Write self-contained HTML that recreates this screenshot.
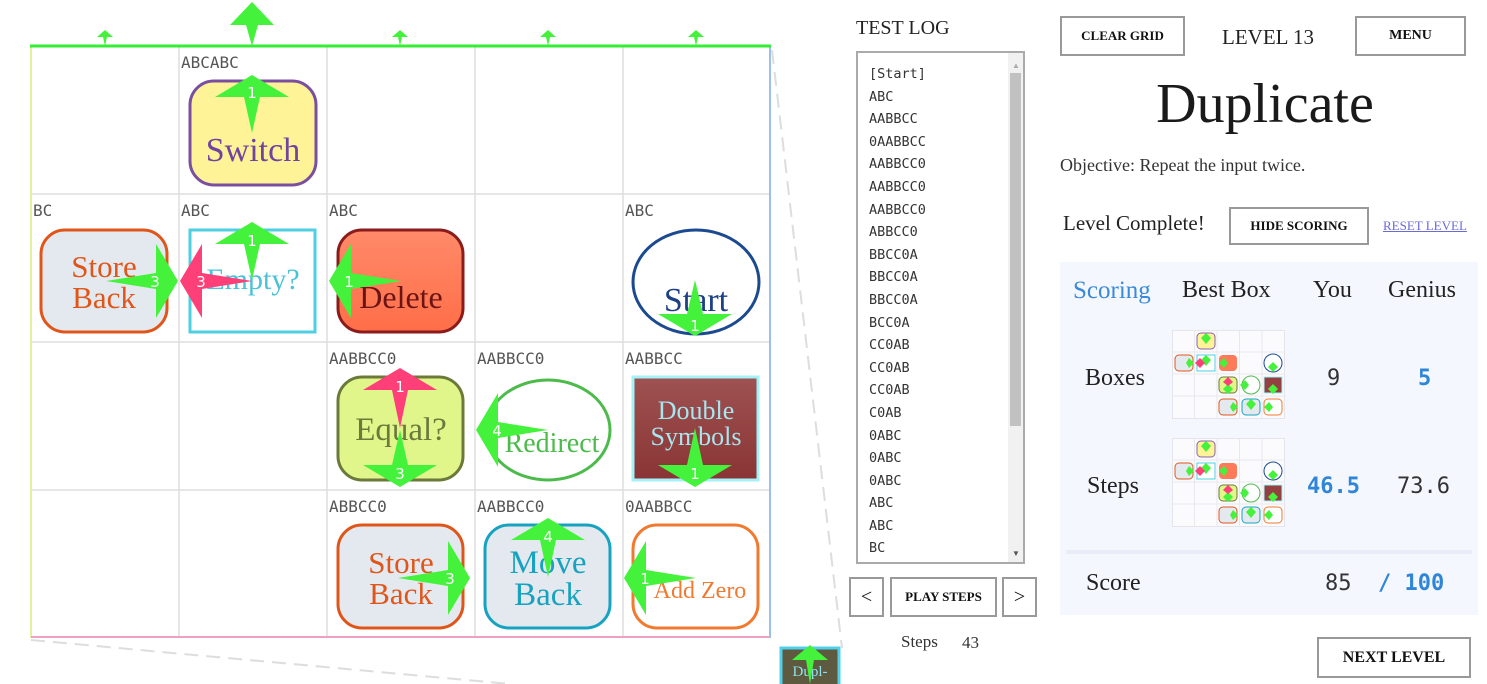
<!DOCTYPE html>
<html><head><meta charset="utf-8">
<style>
body{margin:0;width:1487px;height:684px;overflow:hidden;background:#fff;position:relative;font-family:"Liberation Serif",serif;color:#222}
.a{position:absolute}
.btn{position:absolute;border:2px solid #999;box-sizing:border-box;background:#fff;font-weight:bold;font-size:14px;display:flex;align-items:center;justify-content:center;color:#111}
.mono{font-family:"DejaVu Sans Mono","Liberation Mono",monospace}
.log div{height:22.6px;font-size:13.5px;color:#333}
</style></head><body>
<svg class="a" style="left:0;top:0" width="850" height="684">
<defs>
<linearGradient id="dl" x1="0" y1="0" x2="0" y2="1"><stop offset="0" stop-color="#ff8a6a"/><stop offset="1" stop-color="#ff6e48"/></linearGradient>
<linearGradient id="ds" x1="0" y1="0" x2="0" y2="1"><stop offset="0" stop-color="#9e5252"/><stop offset="1" stop-color="#8a3434"/></linearGradient>
</defs>
<g stroke="#ddd" stroke-width="1.5">
<line x1="179" y1="46" x2="179" y2="638"/><line x1="327" y1="46" x2="327" y2="638"/><line x1="475" y1="46" x2="475" y2="638"/><line x1="623" y1="46" x2="623" y2="638"/>
<line x1="31" y1="194" x2="770" y2="194"/><line x1="31" y1="342" x2="770" y2="342"/><line x1="31" y1="490" x2="770" y2="490"/>
</g>
<line x1="31" y1="46" x2="31" y2="638" stroke="#e6ef9a" stroke-width="2"/>
<line x1="770" y1="46" x2="770" y2="638" stroke="#9cc0ee" stroke-width="2"/>
<line x1="31" y1="637" x2="770" y2="637" stroke="#f0a0c0" stroke-width="2"/>
<line x1="30" y1="46" x2="771" y2="46" stroke="#33ee33" stroke-width="3"/>
<line x1="772" y1="50" x2="842" y2="648" stroke="#ddd" stroke-width="2" stroke-dasharray="14,8"/>
<line x1="31" y1="640" x2="510" y2="684" stroke="#ddd" stroke-width="2" stroke-dasharray="14,8"/>
<g class="mono" font-family="DejaVu Sans Mono,monospace" font-size="16" fill="#555">
<text x="181" y="68">ABCABC</text><text x="33" y="216">BC</text><text x="181" y="216">ABC</text><text x="329" y="216">ABC</text><text x="625" y="216">ABC</text>
<text x="329" y="364">AABBCC0</text><text x="477" y="364">AABBCC0</text><text x="625" y="364">AABBCC</text>
<text x="329" y="512">ABBCC0</text><text x="477" y="512">AABBCC0</text><text x="625" y="512">0AABBCC</text>
</g>
<g font-family="Liberation Serif,serif" text-anchor="middle">
<rect x="190" y="81" width="126" height="104" rx="24" fill="#fef396" stroke="#7a4fa0" stroke-width="3"/>
<text x="253" y="161" font-size="34" fill="#6e44a0">Switch</text>
<rect x="41" y="230" width="126" height="102" rx="24" fill="#e3e9ef" stroke="#e0561a" stroke-width="3"/>
<text x="104" y="277" font-size="31" fill="#e0561a">Store</text><text x="104" y="308" font-size="31" fill="#e0561a">Back</text>
<rect x="190" y="230" width="125" height="102" fill="#fff" stroke="#4fd0e2" stroke-width="3"/>
<text x="253" y="289" font-size="30" fill="#4cc2d8">Empty?</text>
<rect x="338" y="230" width="125" height="102" rx="24" fill="url(#dl)" stroke="#8b1c1c" stroke-width="3"/>
<text x="401" y="308" font-size="32" fill="#6a1414">Delete</text>
<ellipse cx="696" cy="282" rx="63" ry="52" fill="#fff" stroke="#1c4a90" stroke-width="3"/>
<text x="696" y="311" font-size="34" fill="#1c3f85">Start</text>
<rect x="338" y="377" width="125" height="103" rx="24" fill="#e0f68a" stroke="#6b7a3a" stroke-width="3"/>
<text x="401" y="440" font-size="33" fill="#6b7a3a">Equal?</text>
<ellipse cx="548" cy="430" rx="62" ry="50" fill="#fff" stroke="#4cbb4c" stroke-width="3"/>
<text x="552" y="452" font-size="28" fill="#4cbb4c">Redirect</text>
<rect x="633" y="377" width="125" height="103" fill="url(#ds)" stroke="#a4f2f8" stroke-width="3"/>
<text x="696" y="419" font-size="26" fill="#a6e6ee">Double</text><text x="696" y="445" font-size="26" fill="#a6e6ee">Symbols</text>
<rect x="338" y="525" width="125" height="103" rx="24" fill="#e3e9ef" stroke="#e0561a" stroke-width="3"/>
<text x="401" y="573" font-size="31" fill="#e0561a">Store</text><text x="401" y="604" font-size="31" fill="#e0561a">Back</text>
<rect x="485" y="525" width="125" height="103" rx="24" fill="#e3e9ef" stroke="#17a3bf" stroke-width="3"/>
<text x="548" y="573" font-size="33" fill="#17a3bf">Move</text><text x="548" y="605" font-size="33" fill="#17a3bf">Back</text>
<rect x="633" y="525" width="125" height="103" rx="24" fill="#fff" stroke="#f07a30" stroke-width="3"/>
<text x="700" y="598" font-size="24" fill="#f07a30">Add Zero</text>
<rect x="781" y="648" width="58" height="40" fill="#5e5a40" stroke="#4fd0e8" stroke-width="3"/>
<text x="810" y="676" font-size="15" fill="#8ee0ee">Dupl-</text>
</g>
<g fill="#44f23c">
<polygon points="252,2 274,25 258,25 252,46 246,25 230,25"/>
<polygon points="105,30 113,37 107,37 105,46 103,37 97,37"/>
<polygon points="400,30 408,37 402,37 400,46 398,37 392,37"/>
<polygon points="548,30 556,37 550,37 548,46 546,37 540,37"/>
<polygon points="696,30 704,37 698,37 696,46 694,37 688,37"/>
<polygon points="252,75 289,97 260,97 252,133 244,97 215,97"/>
<polygon points="252,222 289,244 260,244 252,280 244,244 215,244"/>
<polygon points="178,281 156,244 156,273 106,281 156,289 156,318"/>
<polygon points="329,281 351,244 351,273 401,281 351,289 351,318"/>
<polygon points="695,336 732,314 703,314 695,280 687,314 658,314"/>
<polygon points="400,487 437,465 408,465 400,430 392,465 363,465"/>
<polygon points="476,430 498,393 498,422 548,430 498,438 498,467"/>
<polygon points="695,487 732,465 703,465 695,428 687,465 658,465"/>
<polygon points="470,578 448,541 448,570 398,578 448,586 448,615"/>
<polygon points="548,518 585,540 556,540 548,577 540,540 511,540"/>
<polygon points="624,578 646,541 646,570 696,578 646,586 646,615"/>
<polygon points="810,645 828,660 814,660 810,684 806,660 792,660"/>
</g>
<g fill="#ff3f77">
<polygon points="180,281 202,244 202,273 252,281 202,289 202,318"/>
<polygon points="400,368 437,390 408,390 400,428 392,390 363,390"/>
</g>
<g font-family="DejaVu Sans,sans-serif" font-size="15" fill="#fff" text-anchor="middle">
<text x="252" y="98">1</text><text x="252" y="246">1</text><text x="155" y="287">3</text><text x="201" y="287">3</text><text x="349" y="287">1</text>
<text x="695" y="331">1</text><text x="400" y="392">1</text><text x="400" y="479">3</text><text x="497" y="436">4</text><text x="695" y="479">1</text>
<text x="450" y="584">3</text><text x="548" y="542">4</text><text x="645" y="584">1</text>
</g>
</svg>

<div class="a" style="left:856px;top:17px;font-size:20px">TEST LOG</div>
<div class="a" style="left:856px;top:51px;width:169px;height:513px;border:2px solid #aaa;box-sizing:border-box;overflow:hidden">
<div class="a mono log" style="left:11px;top:13px">
<div>[Start]</div><div>ABC</div><div>AABBCC</div><div>0AABBCC</div><div>AABBCC0</div><div>AABBCC0</div><div>AABBCC0</div><div>ABBCC0</div><div>BBCC0A</div><div>BBCC0A</div><div>BBCC0A</div><div>BCC0A</div><div>CC0AB</div><div>CC0AB</div><div>CC0AB</div><div>C0AB</div><div>0ABC</div><div>0ABC</div><div>0ABC</div><div>ABC</div><div>ABC</div><div>BC</div></div>
<div class="a" style="left:150px;top:0;width:15px;height:509px;background:#f1f1f1"></div>
<div class="a" style="left:152px;top:20px;width:11px;height:353px;background:#c1c1c1"></div>
<div class="a" style="left:154px;top:8px;font-size:8px;color:#aaa">▲</div>
<div class="a" style="left:154px;top:496px;font-size:8px;color:#555">▼</div>
</div>
<div class="btn" style="left:849px;top:577px;width:35px;height:40px;font-size:20px;font-weight:normal">&lt;</div>
<div class="btn" style="left:890px;top:577px;width:107px;height:40px;font-size:13px">PLAY STEPS</div>
<div class="btn" style="left:1002px;top:577px;width:35px;height:40px;font-size:20px;font-weight:normal">&gt;</div>
<div class="a" style="left:901px;top:632px;font-size:17px;color:#333">Steps</div>
<div class="a" style="left:962px;top:633px;font-size:17px;color:#333">43</div>

<div class="btn" style="left:1060px;top:16px;width:125px;height:40px;font-size:13px">CLEAR GRID</div>
<div class="a" style="left:1222px;top:25px;font-size:21px">LEVEL 13</div>
<div class="btn" style="left:1355px;top:16px;width:111px;height:40px;font-size:14px">MENU</div>
<div class="a" style="left:1060px;top:72px;width:410px;text-align:center;font-size:56px;color:#1a1a1a">Duplicate</div>
<div class="a" style="left:1060px;top:155px;font-size:18px;color:#333">Objective: Repeat the input twice.</div>
<div class="a" style="left:1063px;top:211px;font-size:21px;color:#222">Level Complete!</div>
<div class="btn" style="left:1229px;top:207px;width:140px;height:38px;font-size:13px">HIDE SCORING</div>
<div class="a" style="left:1383px;top:218px;font-size:13px;color:#6a6ad8;text-decoration:underline">RESET LEVEL</div>

<div class="a" style="left:1060px;top:262px;width:418px;height:353px;background:#f5f7fe"></div>
<div class="a" style="left:1066px;top:550px;width:406px;height:4px;background:#e8ecf8"></div>
<div class="a" style="left:1073px;top:277px;font-size:25px;color:#3a8ad8">Scoring</div>
<div class="a" style="left:1182px;top:277px;font-size:24px">Best Box</div>
<div class="a" style="left:1313px;top:277px;font-size:24px">You</div>
<div class="a" style="left:1388px;top:277px;font-size:24px">Genius</div>
<div class="a" style="left:1085px;top:365px;font-size:24px">Boxes</div>
<div class="a" style="left:1087px;top:473px;font-size:24px">Steps</div>
<div class="a" style="left:1086px;top:570px;font-size:24px">Score</div>
<div class="a mono" style="left:1327px;top:366px;font-size:22px;color:#333">9</div>
<div class="a mono" style="left:1418px;top:366px;font-size:22px;color:#2f86d8;font-weight:bold">5</div>
<div class="a mono" style="left:1307px;top:474px;font-size:22px;color:#2f86d8;font-weight:bold">46.5</div>
<div class="a mono" style="left:1397px;top:474px;font-size:22px;color:#333">73.6</div>
<div class="a mono" style="left:1325px;top:571px;font-size:22px;color:#333">85</div>
<div class="a mono" style="left:1378px;top:571px;font-size:22px;color:#2f86d8;font-weight:bold">/ 100</div>

<svg class="a" style="left:1172px;top:330px" width="114" height="90">
<rect x="0.5" y="0.5" width="112" height="88" fill="#fbfbfd" stroke="#e4e4ea"/>
<g stroke="#e8e8ee"><line x1="22.5" y1="0" x2="22.5" y2="89"/><line x1="45" y1="0" x2="45" y2="89"/><line x1="67.5" y1="0" x2="67.5" y2="89"/><line x1="90" y1="0" x2="90" y2="89"/><line x1="0" y1="22" x2="113" y2="22"/><line x1="0" y1="44" x2="113" y2="44"/><line x1="0" y1="66" x2="113" y2="66"/></g>
<rect x="25" y="3" width="18" height="16" rx="4" fill="#fef396" stroke="#8a60b0"/>
<rect x="3" y="25" width="18" height="16" rx="4" fill="#e3e9ef" stroke="#e0561a"/>
<rect x="25" y="25" width="18" height="16" fill="#fff" stroke="#4fd0e2"/>
<rect x="47" y="25" width="18" height="16" rx="4" fill="#ff7a58"/>
<circle cx="101" cy="33" r="9" fill="#fff" stroke="#1c4a90"/>
<rect x="47" y="47" width="18" height="16" rx="4" fill="#e0f68a" stroke="#6b7a3a"/>
<circle cx="79" cy="55" r="9" fill="#fff" stroke="#4cbb4c"/>
<rect x="92" y="47" width="18" height="16" fill="#944040" stroke="#a4f2f8"/>
<rect x="47" y="69" width="18" height="16" rx="4" fill="#e3e9ef" stroke="#e0561a"/>
<rect x="70" y="69" width="18" height="16" rx="4" fill="#e3e9ef" stroke="#17a3bf"/>
<rect x="92" y="69" width="18" height="16" rx="4" fill="#fff" stroke="#f07a30"/>
<g fill="#44f23c"><polygon points="34,3 39,8 34,14 29,8"/><polygon points="34,25 39,30 34,36 29,30"/><polygon points="22,33 17,28 14,33 17,38"/><polygon points="47,33 52,28 56,33 52,38"/><polygon points="101,42 106,37 101,32 96,37"/><polygon points="56,64 61,59 56,54 51,59"/><polygon points="68,55 73,50 77,55 73,60"/><polygon points="101,64 106,59 101,54 96,59"/><polygon points="66,77 61,72 58,77 61,82"/><polygon points="79,69 84,74 79,80 74,74"/><polygon points="92,77 97,72 101,77 97,82"/></g>
<g fill="#ff3f77"><polygon points="23,33 28,28 33,33 28,38"/><polygon points="56,47 61,52 56,56 51,52"/></g>
</svg>
<svg class="a" style="left:1172px;top:438px" width="114" height="90">
<rect x="0.5" y="0.5" width="112" height="88" fill="#fbfbfd" stroke="#e4e4ea"/>
<g stroke="#e8e8ee"><line x1="22.5" y1="0" x2="22.5" y2="89"/><line x1="45" y1="0" x2="45" y2="89"/><line x1="67.5" y1="0" x2="67.5" y2="89"/><line x1="90" y1="0" x2="90" y2="89"/><line x1="0" y1="22" x2="113" y2="22"/><line x1="0" y1="44" x2="113" y2="44"/><line x1="0" y1="66" x2="113" y2="66"/></g>
<rect x="25" y="3" width="18" height="16" rx="4" fill="#fef396" stroke="#8a60b0"/>
<rect x="3" y="25" width="18" height="16" rx="4" fill="#e3e9ef" stroke="#e0561a"/>
<rect x="25" y="25" width="18" height="16" fill="#fff" stroke="#4fd0e2"/>
<rect x="47" y="25" width="18" height="16" rx="4" fill="#ff7a58"/>
<circle cx="101" cy="33" r="9" fill="#fff" stroke="#1c4a90"/>
<rect x="47" y="47" width="18" height="16" rx="4" fill="#e0f68a" stroke="#6b7a3a"/>
<circle cx="79" cy="55" r="9" fill="#fff" stroke="#4cbb4c"/>
<rect x="92" y="47" width="18" height="16" fill="#944040" stroke="#a4f2f8"/>
<rect x="47" y="69" width="18" height="16" rx="4" fill="#e3e9ef" stroke="#e0561a"/>
<rect x="70" y="69" width="18" height="16" rx="4" fill="#e3e9ef" stroke="#17a3bf"/>
<rect x="92" y="69" width="18" height="16" rx="4" fill="#fff" stroke="#f07a30"/>
<g fill="#44f23c"><polygon points="34,3 39,8 34,14 29,8"/><polygon points="34,25 39,30 34,36 29,30"/><polygon points="22,33 17,28 14,33 17,38"/><polygon points="47,33 52,28 56,33 52,38"/><polygon points="101,42 106,37 101,32 96,37"/><polygon points="56,64 61,59 56,54 51,59"/><polygon points="68,55 73,50 77,55 73,60"/><polygon points="101,64 106,59 101,54 96,59"/><polygon points="66,77 61,72 58,77 61,82"/><polygon points="79,69 84,74 79,80 74,74"/><polygon points="92,77 97,72 101,77 97,82"/></g>
<g fill="#ff3f77"><polygon points="23,33 28,28 33,33 28,38"/><polygon points="56,47 61,52 56,56 51,52"/></g>
</svg>

<div class="btn" style="left:1317px;top:637px;width:154px;height:41px;font-size:16px">NEXT LEVEL</div>
</body></html>
